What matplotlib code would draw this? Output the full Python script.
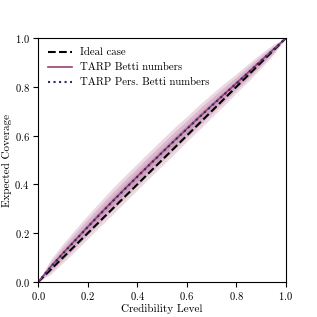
import numpy as np
import matplotlib
matplotlib.use("Agg")
import matplotlib.pyplot as plt

plt.rcParams['font.family'] = 'serif'
plt.rcParams['font.serif'] = ['cmr10']
plt.rcParams['mathtext.fontset'] = 'cm'
plt.rcParams['axes.formatter.use_mathtext'] = True
plt.rcParams['font.size'] = 8

# credibility levels and expected coverage
credibility = [0.0, 0.05, 0.1, 0.15, 0.2, 0.25, 0.3, 0.35, 0.4, 0.45, 0.5,
               0.55, 0.6, 0.65, 0.7, 0.75, 0.8, 0.85, 0.9, 0.95, 1.0]
ecp_betti = [0.0, 0.062, 0.118, 0.172, 0.226, 0.279, 0.331, 0.382, 0.432, 0.482, 0.531,
             0.580, 0.628, 0.676, 0.723, 0.769, 0.815, 0.861, 0.908, 0.954, 1.0]
ecp_pers = [0.0, 0.061, 0.117, 0.171, 0.225, 0.278, 0.330, 0.381, 0.431, 0.481, 0.530,
            0.579, 0.627, 0.675, 0.722, 0.768, 0.814, 0.860, 0.907, 0.953, 1.0]
# half widths of the 1, 2, 3 sigma bands
sigma = [0.0, 0.010, 0.013, 0.015, 0.016, 0.017, 0.018, 0.018, 0.018, 0.018, 0.018,
         0.018, 0.017, 0.017, 0.016, 0.015, 0.013, 0.012, 0.010, 0.007, 0.0]

x = np.array(credibility)
yb = np.array(ecp_betti)
yp = np.array(ecp_pers)
s = np.array(sigma)

plum = '#9c3f74'
navy = '#2b2a6b'

fig = plt.figure(figsize=(3.17, 3.17), dpi=100)
ax = fig.add_axes([0.12, 0.11, 0.782, 0.77])

for k in [1, 2, 3]:
    ax.fill_between(x, yb - k * s, yb + k * s, color=plum, alpha=0.13, lw=0)
    ax.fill_between(x, yp - k * s, yp + k * s, color=plum, alpha=0.08, lw=0)

ax.plot([0, 1], [0, 1], ls='--', color='k', lw=1.5, label='Ideal case')
ax.plot(x, yb, color=plum, lw=1.2, label='TARP Betti numbers')
ax.plot(x, yp, ls=':', color=navy, lw=1.5, label='TARP Pers. Betti numbers')

ax.set_xlim(0, 1)
ax.set_ylim(0, 1)
ax.set_xticks([0, 0.2, 0.4, 0.6, 0.8, 1.0])
ax.set_yticks([0, 0.2, 0.4, 0.6, 0.8, 1.0])
ax.tick_params(labelsize=7.6, pad=2.5)
ax.set_xlabel('Credibility Level', labelpad=1)
ax.set_ylabel('Expected Coverage', labelpad=2)
ax.legend(loc='upper left', frameon=False, fontsize=7.8, handlelength=2.2)

fig.savefig('out.png', dpi=100)
